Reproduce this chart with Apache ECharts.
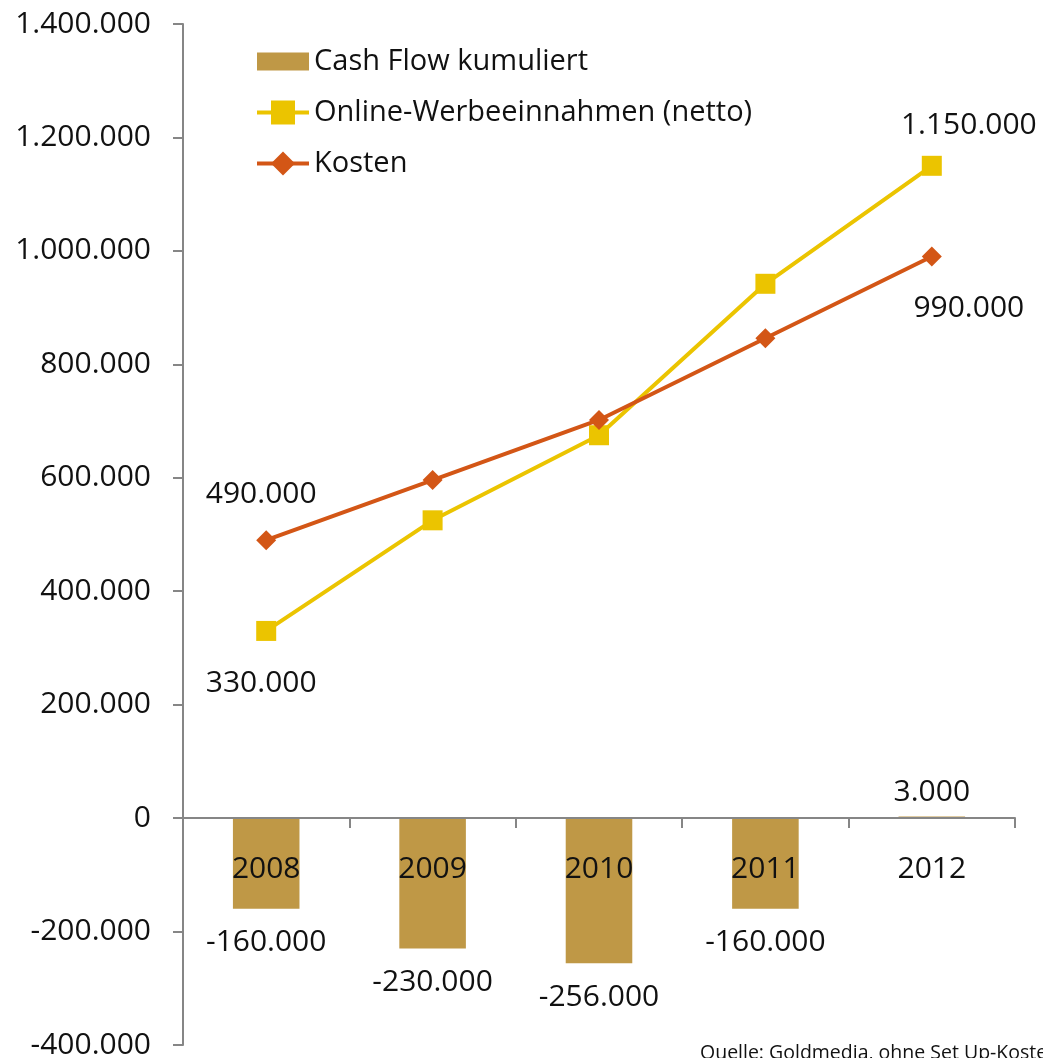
<!DOCTYPE html>
<html><head><meta charset="utf-8">
<script src="https://cdn.jsdelivr.net/npm/echarts@6/dist/echarts.min.js"></script>
<style>html,body{margin:0;padding:0;background:#fff}#c{width:1043px;height:1058px}</style>
</head><body><div id="c"></div>
<script>
var categories = ['2008','2009','2010','2011','2012'];
var cashFlow = [-160000, -230000, -256000, -160000, 3000];
var online = [330000, 525000, 675000, 942000, 1150000];
var kosten = [490000, 596000, 702000, 846000, 990000];
var yTicks = {min: -400000, max: 1400000, interval: 200000};
var sourceText = 'Quelle: Goldmedia, ohne Set Up-Kosten';

var FONT = '"Open Sans", "Noto Sans", sans-serif';
function fmt(v){ var s = Math.abs(v).toString().replace(/\B(?=(\d{3})+(?!\d))/g, '.'); return (v<0?'-':'') + s; }

var chart = echarts.init(document.getElementById('c'));
function endLabels(arr, firstPos, firstDist, lastPos, lastDist){
  return arr.map(function(v,i){
    var o = {value: v};
    if(i===0) o.label = {show:true, position: firstPos, distance: firstDist, offset:[-5,0]};
    else if(i===arr.length-1) o.label = {show:true, position: lastPos, distance: lastDist, offset:[37,0]};
    return o;
  });
}
chart.setOption({
  animation: false,
  textStyle: {fontFamily: FONT},
  grid: {left: 183, right: 28, top: 24, bottom: 13, containLabel: false, outerBoundsMode: 'none'},
  legend: {
    show: true, orient: 'vertical', left: 255, top: 47, padding: 0, itemWidth: 52, itemHeight: 30, itemGap: 22,
    textStyle: {fontSize: 29, color: '#111', fontFamily: FONT},
    data: [
      {name: 'Cash Flow kumuliert', icon: 'path://M0,0H52V18H0Z'},
      {name: 'Online-Werbeeinnahmen (netto)', lineStyle: {width: 4}},
      {name: 'Kosten', lineStyle: {width: 4}}
    ]
  },
  graphic: [{type: 'text', left: 700, top: 1043, style: {text: sourceText, fontSize: 19.5, fill: '#111', fontFamily: FONT}}],
  xAxis: {
    type: 'category', data: categories,
    axisLine: {onZero: true, lineStyle: {color: '#868686', width: 2}},
    axisTick: {show: true, inside: false, length: 10, alignWithLabel: false, lineStyle: {color: '#868686', width: 2}},
    axisLabel: {show: false},
    splitLine: {show: false}, z: 10
  },
  yAxis: {
    type: 'value', min: yTicks.min, max: yTicks.max, interval: yTicks.interval,
    axisLine: {show: true, lineStyle: {color: '#868686', width: 2}},
    axisTick: {show: true, length: 10, lineStyle: {color: '#868686', width: 2}},
    axisLabel: {fontSize: 30, color: '#111', margin: 32, formatter: fmt, fontFamily: FONT},
    splitLine: {show: false}
  },
  series: [
    {
      name: 'Cash Flow kumuliert', type: 'bar',
      data: cashFlow.map(function(v){ return v >= 0 ? {value: v, label: {distance: 9}} : v; }),
      barWidth: '40%',
      itemStyle: {color: '#BF9846'},
      label: {show: true, position: 'outside', fontSize: 30, color: '#111', distance: 19, formatter: function(p){return fmt(p.value);}, fontFamily: FONT},
      z: 2
    },
    {
      name: 'Online-Werbeeinnahmen (netto)', type: 'line', data: endLabels(online, 'bottom', 28, 'top', 15),
      symbol: 'rect', symbolSize: 20, lineStyle: {color: '#EBC400', width: 4}, itemStyle: {color: '#EBC400'},
      label: {show: false, fontSize: 30, color: '#111', formatter: function(p){return fmt(p.value);}, fontFamily: FONT},
      z: 3
    },
    {
      name: 'Kosten', type: 'line', data: endLabels(kosten, 'top', 21, 'bottom', 27),
      symbol: 'diamond', symbolSize: 20, lineStyle: {color: '#D35616', width: 4}, itemStyle: {color: '#D35616'},
      label: {show: false, fontSize: 30, color: '#111', formatter: function(p){return fmt(p.value);}, fontFamily: FONT},
      z: 4
    },
    {
      name: 'catLabels', type: 'scatter', data: categories.map(function(c){return [c, 0];}),
      symbolSize: 0, silent: true, z: 20, itemStyle: {opacity: 1},
      label: {show: true, position: 'bottom', distance: 36, fontSize: 30, color: '#111', opacity: 1, fontFamily: FONT,
        formatter: function(p){return p.value[0];}}
    }
  ]
});
</script></body></html>
